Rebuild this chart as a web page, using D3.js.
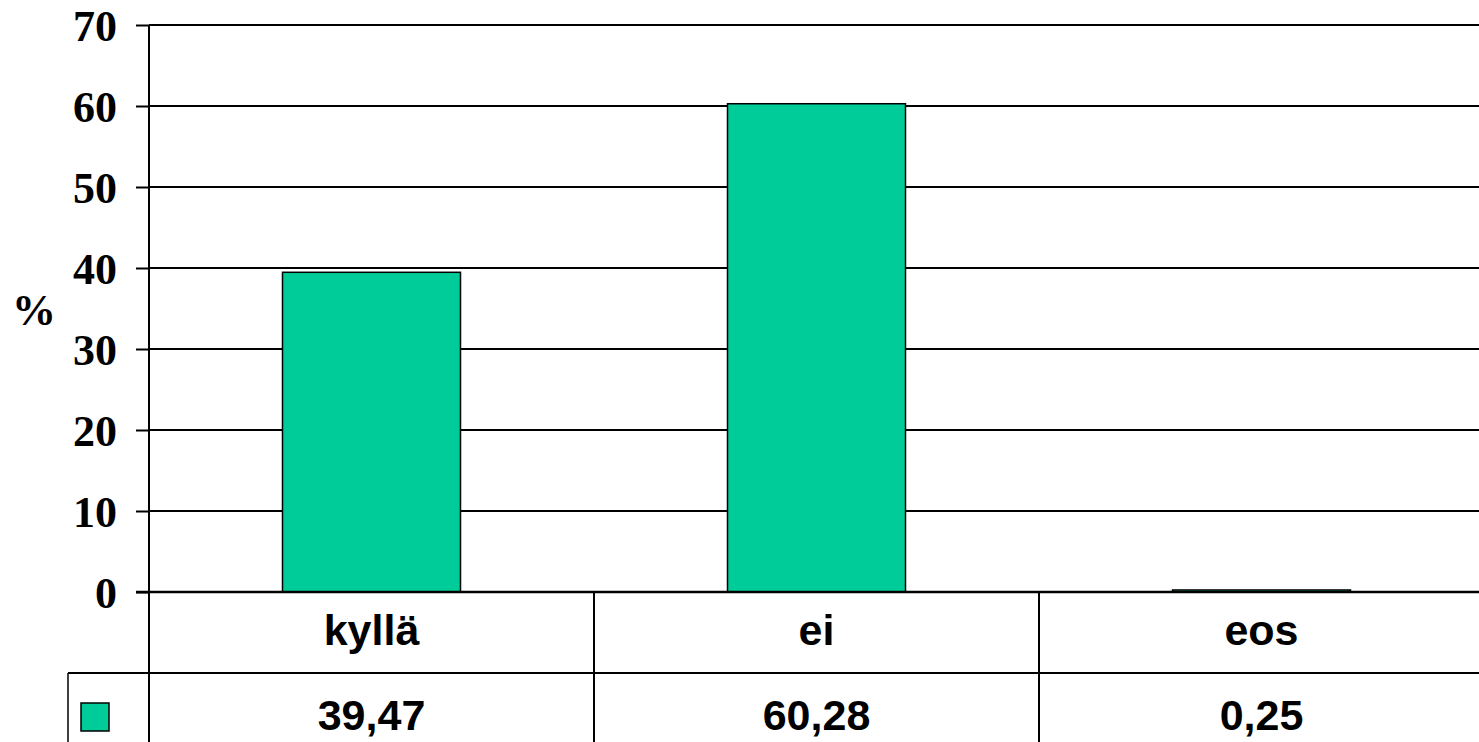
<!DOCTYPE html>
<html>
<head>
<meta charset="utf-8">
<script src="https://cdn.jsdelivr.net/npm/d3@7"></script>
<style>
  body { margin: 0; background: #fff; }
  .tick-label { font-family: "Liberation Serif", "Times New Roman", serif; font-weight: bold; font-size: 44px; }
  .table-text { font-family: "Liberation Sans", Arial, sans-serif; font-weight: bold; font-size: 43px; }
</style>
</head>
<body>
<div id="chart"></div>
<script>
// data
var categories = ["kyllä", "ei", "eos"];
var values = [39.47, 60.28, 0.25];
var valueLabels = ["39,47", "60,28", "0,25"];
var yTicks = [0, 10, 20, 30, 40, 50, 60, 70];

var svgWidth = 1479;
var svgHeight = 742;

var margin = { top: 25, left: 149 };
var width = 1335;
var height = 567;
var rowSplit = 81;   // category row height below the axis

var barColor = "#00cc99";

var svg = d3.select("#chart")
  .append("svg")
  .attr("width", svgWidth)
  .attr("height", svgHeight);

var chartGroup = svg.append("g")
  .attr("transform", `translate(${margin.left}, ${margin.top})`);

var yScale = d3.scaleLinear()
  .domain([0, 70])
  .range([height, 0]);

var xBars = d3.scaleBand()
  .domain(categories)
  .range([0, width])
  .paddingInner(0.6)
  .paddingOuter(0.3);

var xCols = d3.scaleBand()
  .domain(categories)
  .range([0, width])
  .padding(0);

// gridlines
chartGroup.selectAll(".grid")
  .data(yTicks.filter(d => d > 0))
  .enter()
  .append("line")
  .attr("x1", 0)
  .attr("x2", width)
  .attr("y1", d => yScale(d))
  .attr("y2", d => yScale(d))
  .attr("stroke", "#000")
  .attr("stroke-width", 2);

// bars
chartGroup.selectAll(".bar")
  .data(values)
  .enter()
  .append("rect")
  .attr("x", (d, i) => xBars(categories[i]))
  .attr("y", d => yScale(d))
  .attr("width", xBars.bandwidth())
  .attr("height", d => height - yScale(d))
  .attr("fill", barColor)
  .attr("stroke", "#000")
  .attr("stroke-width", 1.5);

// y axis
var leftAxis = d3.axisLeft(yScale)
  .tickValues(yTicks)
  .tickSize(13)
  .tickFormat(d3.format("d"));

var yAxis = chartGroup.append("g").call(leftAxis);
yAxis.select(".domain").remove();
yAxis.selectAll(".tick line").attr("stroke", "#000").attr("stroke-width", 2);
yAxis.selectAll(".tick text")
  .attr("class", "tick-label")
  .attr("x", -32)
  .attr("dy", "0.36em")
  .attr("fill", "#000");

// axis line runs down through the table
chartGroup.append("line")
  .attr("x1", 0).attr("x2", 0)
  .attr("y1", 0).attr("y2", svgHeight - margin.top)
  .attr("stroke", "#000")
  .attr("stroke-width", 2);

// zero line / table top
chartGroup.append("line")
  .attr("x1", -13).attr("x2", width)
  .attr("y1", height).attr("y2", height)
  .attr("stroke", "#000")
  .attr("stroke-width", 2.5);

// row divider
chartGroup.append("line")
  .attr("x1", -81).attr("x2", width)
  .attr("y1", height + rowSplit).attr("y2", height + rowSplit)
  .attr("stroke", "#000")
  .attr("stroke-width", 2);

// left border of values row
chartGroup.append("line")
  .attr("x1", -81).attr("x2", -81)
  .attr("y1", height + rowSplit).attr("y2", svgHeight - margin.top)
  .attr("stroke", "#000")
  .attr("stroke-width", 1.5);

// column dividers
chartGroup.selectAll(".coldiv")
  .data(categories.slice(1))
  .enter()
  .append("line")
  .attr("x1", d => xCols(d))
  .attr("x2", d => xCols(d))
  .attr("y1", height)
  .attr("y2", svgHeight - margin.top)
  .attr("stroke", "#000")
  .attr("stroke-width", 2);

// category labels
chartGroup.selectAll(".cat")
  .data(categories)
  .enter()
  .append("text")
  .attr("class", "table-text")
  .attr("x", d => xCols(d) + xCols.bandwidth() / 2)
  .attr("y", height + 53)
  .attr("text-anchor", "middle")
  .text(d => d);

// value labels
chartGroup.selectAll(".val")
  .data(valueLabels)
  .enter()
  .append("text")
  .attr("class", "table-text")
  .attr("x", (d, i) => xCols(categories[i]) + xCols.bandwidth() / 2)
  .attr("y", height + 138)
  .attr("text-anchor", "middle")
  .text(d => d);

// legend key
chartGroup.append("rect")
  .attr("x", -68)
  .attr("y", height + 111)
  .attr("width", 28)
  .attr("height", 28)
  .attr("fill", barColor)
  .attr("stroke", "#000")
  .attr("stroke-width", 1.5);

// y axis title
svg.append("text")
  .attr("class", "tick-label")
  .attr("x", 34)
  .attr("y", 325)
  .attr("text-anchor", "middle")
  .text("%");
</script>
</body>
</html>
